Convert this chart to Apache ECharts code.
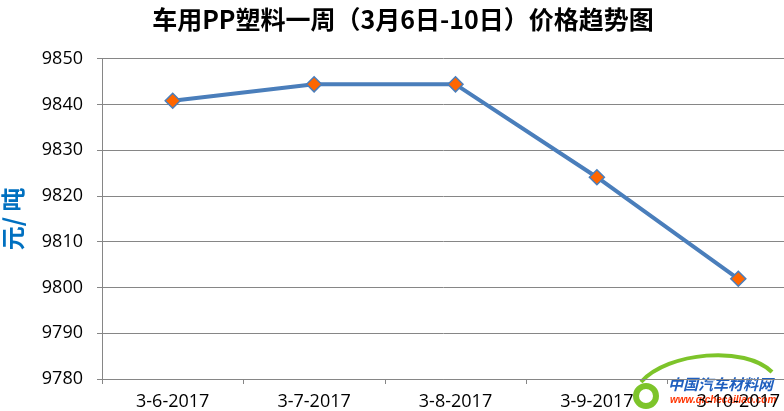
<!DOCTYPE html>
<html><head><meta charset="utf-8">
<script src="https://cdn.jsdelivr.net/npm/echarts@6/dist/echarts.min.js"></script>
<style>html,body{margin:0;padding:0;background:#fff}#c{width:784px;height:411px}</style>
</head><body><div id="c"></div>
<script>
const categories = ['3-6-2017','3-7-2017','3-8-2017','3-9-2017','3-10-2017'];
const prices = [9840.8, 9844.4, 9844.4, 9824.1, 9801.9];
const titleText = '车用PP塑料一周（3月6日-10日）价格趋势图';
const yName = '元/ 吨';

const chart = echarts.init(document.getElementById('c'));
const font = '"Open Sans", "Noto Sans", sans-serif';
chart.setOption({
  animation: false,
  backgroundColor: '#fff',
  title: {
    text: titleText, left: 398, top: 2, textAlign: 'center',
    textStyle: {fontFamily: '"Noto Sans CJK SC"', fontWeight: 'bold', fontSize: 25, color: '#000'}
  },
  grid: {left: 102, right: -25, top: 58.7, bottom: 32, outerBoundsMode: 'none', containLabel: false},
  xAxis: {
    type: 'category', data: categories, boundaryGap: true,
    axisLine: {lineStyle: {color: '#868686', width: 1}},
    axisTick: {show: true, length: 5, lineStyle: {color: '#868686'}},
    axisLabel: {fontFamily: font, fontSize: 18, color: '#000', margin: 14, interval: 0}
  },
  yAxis: {
    type: 'value', min: 9780, max: 9850, interval: 10,
    name: yName, nameLocation: 'middle', nameGap: 77, nameRotate: 90,
    nameTextStyle: {fontFamily: '"Noto Sans CJK SC"', fontWeight: 'bold', fontSize: 24, color: '#0070C0'},
    axisLine: {show: true, lineStyle: {color: '#868686', width: 1}},
    axisTick: {show: true, length: 5, lineStyle: {color: '#868686'}},
    splitLine: {show: true, lineStyle: {color: '#868686', width: 1}},
    axisLabel: {fontFamily: font, fontSize: 18, color: '#000', margin: 19, formatter: v => String(v)}
  },
  series: [{
    type: 'line', data: prices,
    lineStyle: {color: '#4A7EBB', width: 4},
    symbol: 'diamond', symbolSize: 15,
    itemStyle: {color: '#FF6600', borderColor: '#4A7EBB', borderWidth: 1.5}
  }],
  graphic: [
    {type: 'bezierCurve', shape: {x1: 641, y1: 382, cpx1: 668, cpy1: 352, x2: 772, y2: 372, cpx2: 745, cpy2: 345},
     style: {stroke: '#7DC42A', lineWidth: 4, fill: null}},
    {type: 'ring', shape: {cx: 646, cy: 396, r: 13, r0: 7}, style: {fill: '#7DC42A'}},
    {type: 'text', left: 668, top: 377, style: {text: '中国汽车材料网', fill: '#1F5FBF', font: 'italic bold 15px "Noto Sans CJK SC"'}},
    {type: 'text', left: 670, top: 395, style: {text: 'www.qichecailiao.com', fill: '#FF3300', font: 'italic bold 10px "Liberation Sans"'}}
  ]
});
</script></body></html>
